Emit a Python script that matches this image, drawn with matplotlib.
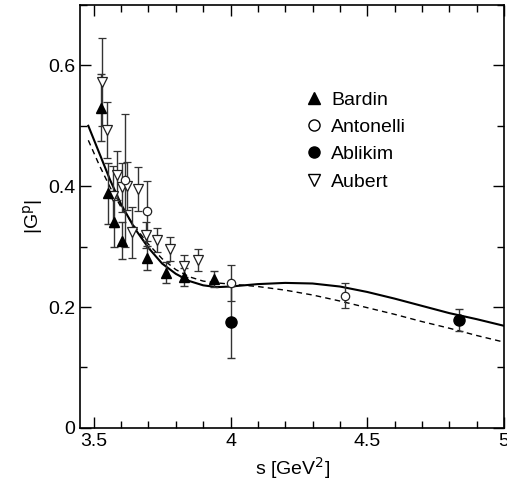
import matplotlib
matplotlib.use("Agg")
import matplotlib.pyplot as plt
from matplotlib.lines import Line2D
from matplotlib.ticker import FixedLocator, MultipleLocator

plt.rcParams['font.family'] = ['Liberation Sans', 'DejaVu Sans']

# Bardin (filled up-triangles)
bardin_s = [3.526, 3.551, 3.573, 3.602, 3.693, 3.763, 3.830, 3.938]
bardin_g = [0.530, 0.388, 0.340, 0.310, 0.281, 0.257, 0.250, 0.247]
bardin_e = [0.055, 0.050, 0.040, 0.030, 0.020, 0.017, 0.015, 0.013]

# Antonelli (open circles)
anto_s = [3.613, 3.693, 4.000, 4.420]
anto_g = [0.410, 0.359, 0.240, 0.219]
anto_e = [0.110, 0.050, 0.030, 0.021]

# Ablikim (filled circles)
abl_s = [4.000, 4.836]
abl_g = [0.175, 0.178]
abl_e = [0.060, 0.018]

# Aubert (open down-triangles)
aub_s = [3.529, 3.547, 3.570, 3.584, 3.602, 3.620, 3.640, 3.660, 3.690, 3.733, 3.780, 3.830, 3.880]
aub_g = [0.572, 0.493, 0.383, 0.418, 0.398, 0.400, 0.324, 0.395, 0.319, 0.311, 0.296, 0.268, 0.278]
aub_e = [0.073, 0.047, 0.050, 0.040, 0.040, 0.040, 0.042, 0.036, 0.022, 0.020, 0.020, 0.018, 0.018]

# Model curves
solid_s = [3.48, 3.52, 3.56, 3.60, 3.65, 3.70, 3.75, 3.80, 3.85, 3.90, 3.95, 4.00,
           4.05, 4.10, 4.20, 4.30, 4.40, 4.50, 4.60, 4.70, 4.80, 4.90, 5.00]
solid_g = [0.500, 0.455, 0.410, 0.370, 0.330, 0.298, 0.272, 0.255, 0.243, 0.236, 0.233, 0.234,
           0.236, 0.238, 0.240, 0.239, 0.234, 0.225, 0.214, 0.202, 0.190, 0.180, 0.169]
dash_s = [3.48, 3.52, 3.56, 3.60, 3.65, 3.70, 3.75, 3.80, 3.85, 3.90, 3.95, 4.00,
          4.10, 4.20, 4.30, 4.40, 4.50, 4.60, 4.70, 4.80, 4.90, 5.00]
dash_g = [0.476, 0.435, 0.398, 0.365, 0.333, 0.304, 0.280, 0.262, 0.250, 0.243, 0.240, 0.238,
          0.234, 0.228, 0.220, 0.210, 0.199, 0.188, 0.176, 0.165, 0.153, 0.142]

xticks = [3.5, 4.0, 4.5, 5.0]
xticklabels = ["3.5", "4", "4.5", "5"]
yticks = [0.0, 0.2, 0.4, 0.6]
yticklabels = ["0", "0.2", "0.4", "0.6"]

fig = plt.figure(figsize=(5.07, 4.93), dpi=100)
ax = fig.add_axes([0.158, 0.132, 0.836, 0.858])

ax.plot(solid_s, solid_g, color='black', lw=1.5, zorder=2)
ax.plot(dash_s, dash_g, color='black', lw=1.0, ls=(0, (4, 3)), zorder=2)

ekw = dict(ecolor='#333333', elinewidth=1.0, capsize=3, capthick=1.0, ls='none', zorder=3)
ax.errorbar(aub_s, aub_g, yerr=aub_e, marker='v', ms=7, mfc='white', mec='#222222', mew=0.9, **ekw)
ax.errorbar(bardin_s, bardin_g, yerr=bardin_e, marker='^', ms=7, mfc='black', mec='black', **ekw)
ax.errorbar(anto_s, anto_g, yerr=anto_e, marker='o', ms=6, mfc='white', mec='#222222', mew=0.9, **ekw)
ax.errorbar(abl_s, abl_g, yerr=abl_e, marker='o', ms=8, mfc='black', mec='black', **ekw)

ax.set_xlim(3.45, 5.0)
ax.set_ylim(0, 0.70)
ax.xaxis.set_major_locator(FixedLocator(xticks))
ax.set_xticklabels(xticklabels)
ax.yaxis.set_major_locator(FixedLocator(yticks))
ax.set_yticklabels(yticklabels)
ax.xaxis.set_minor_locator(MultipleLocator(0.1))
ax.yaxis.set_minor_locator(MultipleLocator(0.1))
ax.tick_params(which='both', direction='in', top=True, right=True, labelsize=14, width=1.0)
ax.tick_params(which='major', length=8)
ax.tick_params(which='minor', length=5)
for sp in ax.spines.values():
    sp.set_linewidth(1.2)

ax.set_xlabel(r"s [GeV$^2$]", fontsize=14)
ax.set_ylabel(r"|G$^{\mathrm{p}}$|", fontsize=14, labelpad=2)

handles = [
    Line2D([], [], ls='none', marker='^', ms=8, mfc='black', mec='black'),
    Line2D([], [], ls='none', marker='o', ms=8, mfc='white', mec='black'),
    Line2D([], [], ls='none', marker='o', ms=8, mfc='black', mec='black'),
    Line2D([], [], ls='none', marker='v', ms=8, mfc='white', mec='black'),
]
ax.legend(handles, ["Bardin", "Antonelli", "Ablikim", "Aubert"], loc='upper left',
          bbox_to_anchor=(0.505, 0.815), frameon=False, fontsize=14, handletextpad=0.3,
          labelspacing=0.5, handlelength=1.2, borderaxespad=0)

fig.savefig("out.png", dpi=100)
